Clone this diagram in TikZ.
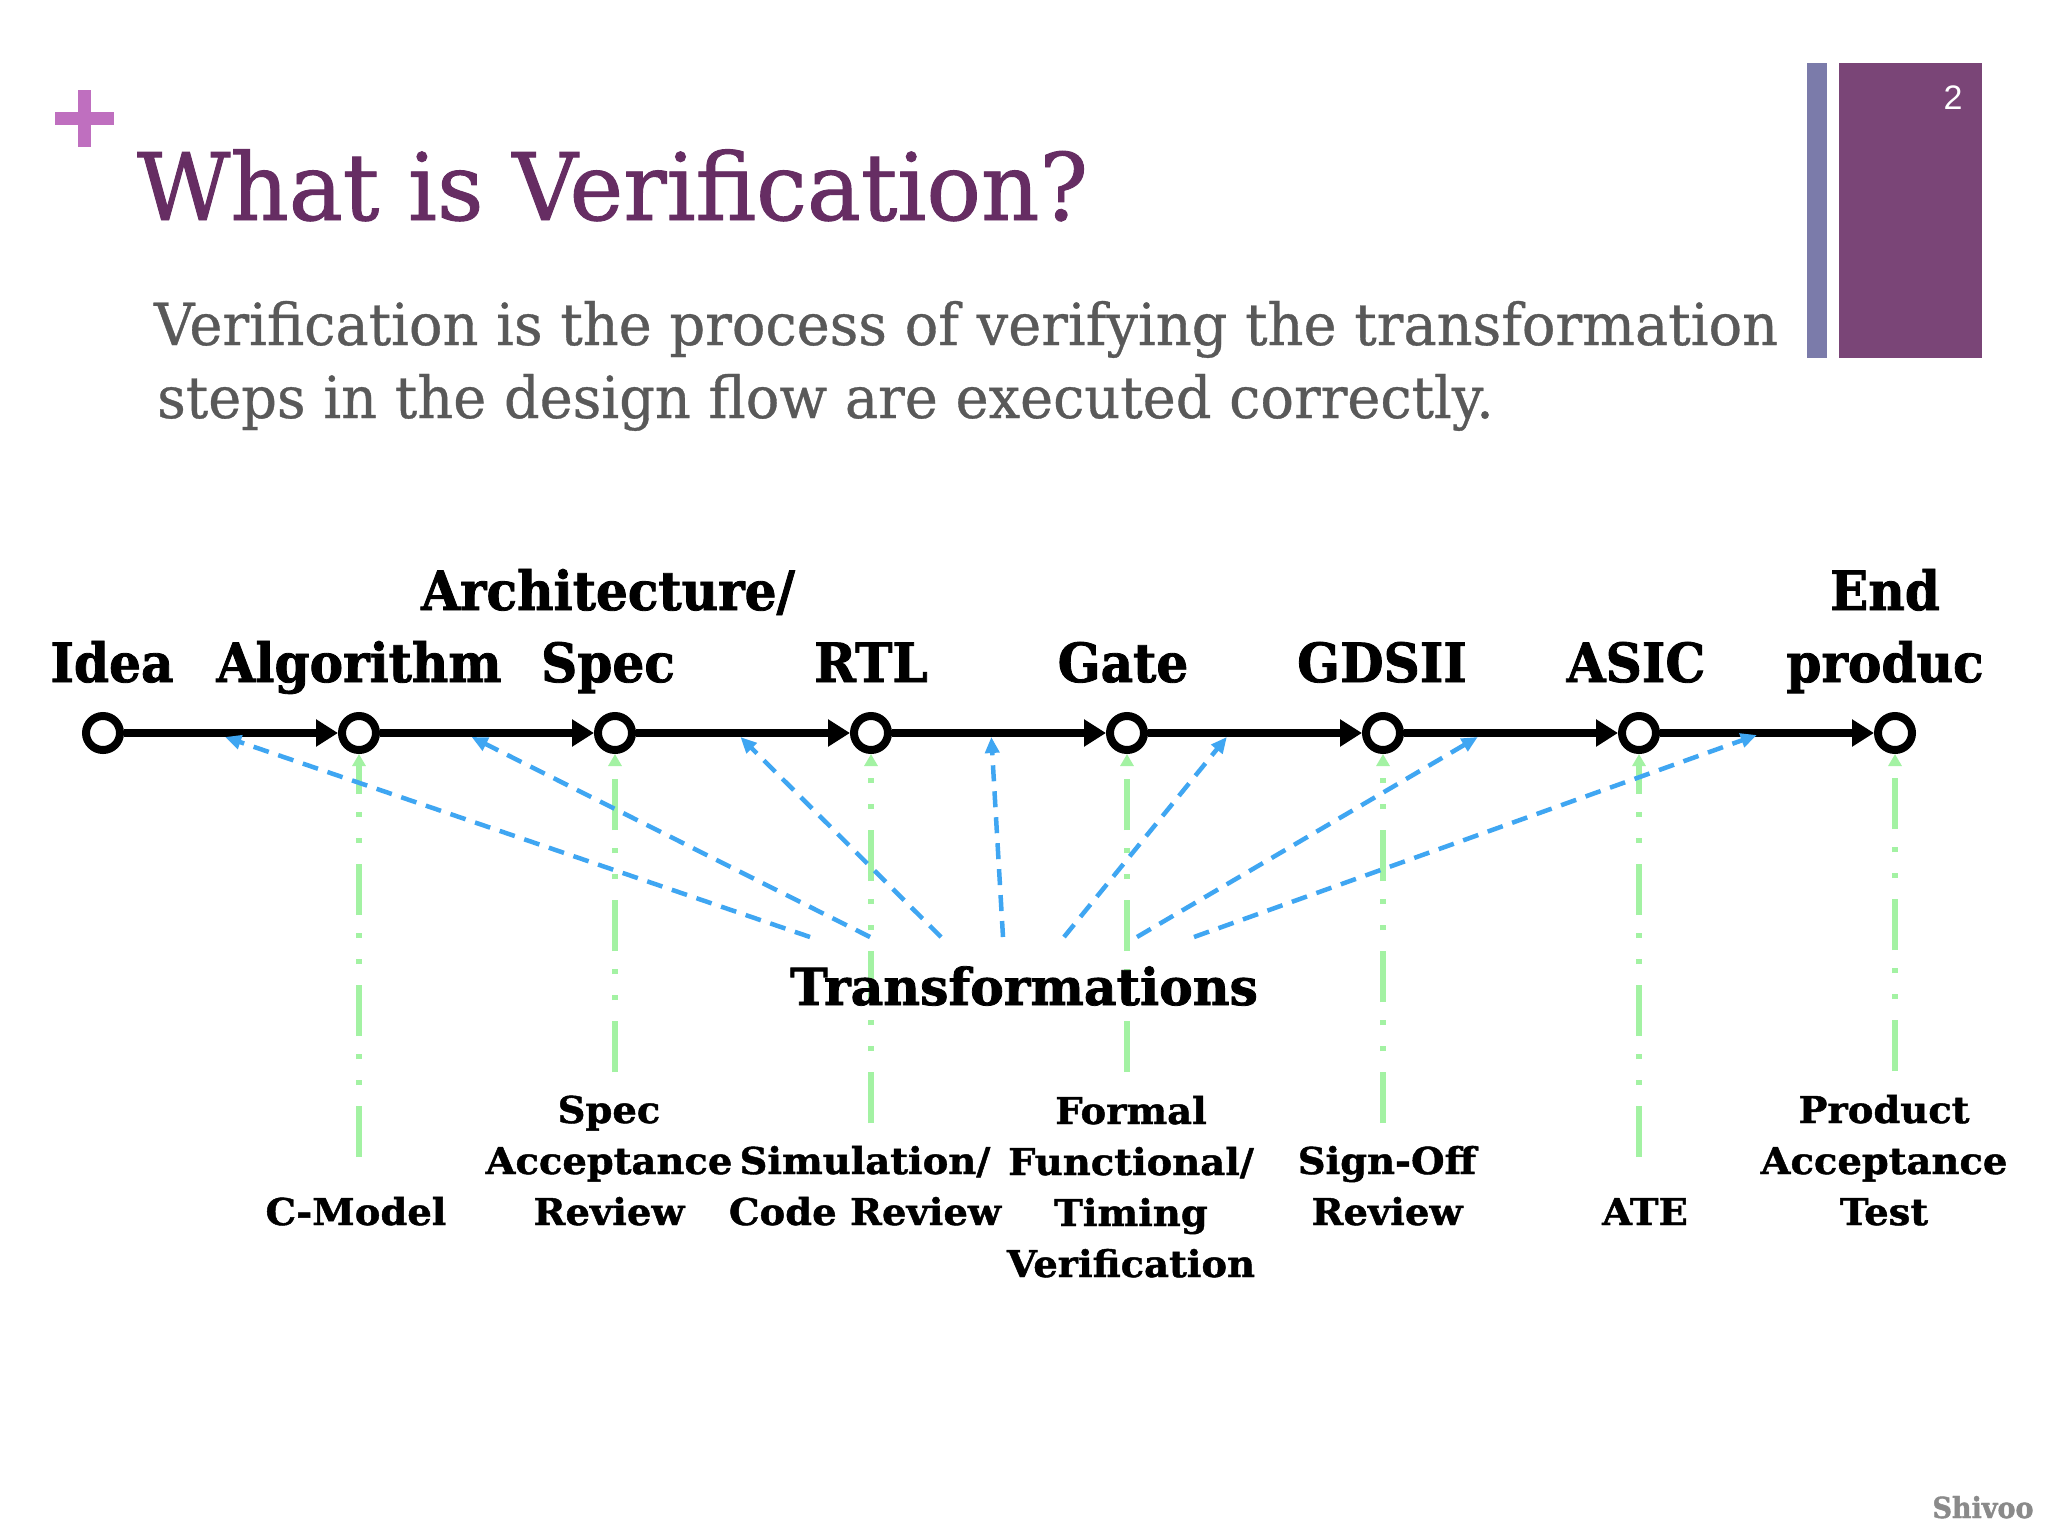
\documentclass[tikz,border=0pt]{standalone}
\usepackage{fontspec}
\setmainfont{DejaVu Serif}
\newfontfamily\titlefont{DejaVu Serif}[FakeStretch=0.975,FakeBold=1]
\newfontfamily\bodyfont{DejaVu Serif}[FakeStretch=0.962,FakeBold=0.6]
\newfontfamily\labfont{DejaVu Serif}[FakeStretch=0.93,FakeBold=1.5]
\newfontfamily\transfont{DejaVu Serif}[FakeStretch=0.99,FakeBold=1.5]
\newfontfamily\smallfont{DejaVu Serif}[FakeStretch=1.04,FakeBold=1.2]
\newfontfamily\numfont{Liberation Sans}
\usetikzlibrary{arrows.meta,calc}
\definecolor{titlepurple}{HTML}{662D63}
\definecolor{bodygray}{HTML}{595959}
\definecolor{plusc}{HTML}{BF6FBF}
\definecolor{barblue}{HTML}{7B7BAA}
\definecolor{barpurple}{HTML}{7A4577}
\definecolor{flowgreen}{HTML}{A3F2A3}
\definecolor{flowblue}{HTML}{3FA6F2}
\definecolor{markgray}{HTML}{8A8A8A}
\begin{document}
\begin{tikzpicture}[x=1pt,y=-1pt,
  stage/.style={circle,draw=black,line width=8pt,minimum size=34pt,inner sep=0pt,fill=white},
  flowline/.style={line width=8pt,-{Triangle[length=22pt,width=26pt]}},
  toplab/.style={anchor=base,inner sep=0pt,align=center,font=\labfont\bfseries\fontsize{54}{72}\selectfont},
  botlab/.style={anchor=base,inner sep=0pt,align=center,font=\smallfont\bfseries\fontsize{37}{51}\selectfont},
  transarrow/.style={flowblue,line width=4.5pt,dash pattern=on 16pt off 10pt,-{Triangle[length=16pt,width=14pt]}},
  checkline/.style={flowgreen,line width=6pt,dash pattern=on 51pt off 21pt on 5pt off 21pt on 5pt off 18pt,-{Triangle[length=12pt,width=13pt]}}
]
\useasboundingbox (0,0) rectangle (2048,1536);
\fill[white] (0,0) rectangle (2048,1536);

% header
\fill[plusc] (55,112) rectangle (114,125);
\fill[plusc] (78,90) rectangle (91,147);
\node[anchor=base west,inner sep=0pt,text=titlepurple,font=\titlefont\fontsize{93}{100}\selectfont] (title) at (137,220) {What is Verification?};
\node[anchor=base west,inner sep=0pt,text=bodygray,font=\bodyfont\fontsize{58}{70}\selectfont] (body1) at (154,345) {Verification is the process of verifying the transformation};
\node[anchor=base west,inner sep=0pt,text=bodygray,font=\bodyfont\fontsize{58}{70}\selectfont] (body2) at (157,418) {steps in the design flow are executed correctly.};
\fill[barblue] (1807,63) rectangle (1827,358);
\fill[barpurple] (1839,63) rectangle (1982,358);
\node[anchor=center,inner sep=0pt,text=white,font=\numfont\fontsize{34}{40}\selectfont] (pagenum) at (1953,98) {2};

% stages
\foreach \i/\x in {1/103,2/359,3/615,4/871,5/1127,6/1383,7/1639,8/1895}
  \node[stage] (c\i) at (\x,733) {};
\foreach \a/\b in {1/2,2/3,3/4,4/5,5/6,6/7,7/8}
  \draw[flowline] (c\a) -- (c\b);

% top labels
\node[toplab] (t1) at (112,682) {Idea};
\node[toplab] (t2) at (359,682) {Algorithm};
\node[toplab] (t3) at (608,682) {Architecture/\\Spec};
\node[toplab] (t4) at (871,682) {RTL};
\node[toplab] (t5) at (1123,682) {Gate};
\node[toplab] (t6) at (1382,682) {GDSII};
\node[toplab] (t7) at (1636,682) {ASIC};
\node[toplab] (t8) at (1885,682) {End\\produc};

% check lines
\coordinate (e2) at (c2 |- 0,1157);
\coordinate (e3) at (c3 |- 0,1072);
\coordinate (e4) at (c4 |- 0,1123);
\coordinate (e5) at (c5 |- 0,1072);
\coordinate (e6) at (c6 |- 0,1123);
\coordinate (e7) at (c7 |- 0,1157);
\coordinate (e8) at (c8 |- 0,1071);
\foreach \k in {2,...,8}
  \draw[checkline] (e\k) -- (c\k.south);

% transformations
\node[anchor=base,inner sep=0pt,font=\transfont\bfseries\fontsize{51}{60}\selectfont] (T) at (1024,1005) {Transformations};
\coordinate (s1) at ($(T.base)+(-214,-68)$);
\coordinate (s2) at ($(T.base)+(-154,-68)$);
\coordinate (s3) at ($(T.base)+(-83,-68)$);
\coordinate (s4) at ($(T.base)+(-21,-68)$);
\coordinate (s5) at ($(T.base)+(40,-68)$);
\coordinate (s6) at ($(T.base)+(113,-68)$);
\coordinate (s7) at ($(T.base)+(170,-68)$);
\coordinate (m1) at ($(c1)!0.477!(c2)+(0,4)$);
\coordinate (m2) at ($(c2)!0.44!(c3)+(0,4)$);
\coordinate (m3) at ($(c3)!0.49!(c4)+(0,4)$);
\coordinate (m4) at ($(c4)!0.47!(c5)+(0,4)$);
\coordinate (m5) at ($(c5)!0.39!(c6)+(0,4)$);
\coordinate (m6) at ($(c6)!0.37!(c7)+(0,4)$);
\coordinate (m7) at ($(c7)!0.46!(c8)+(0,2)$);
\foreach \k in {1,...,7}
  \draw[transarrow] (s\k) -- (m\k);

% bottom labels
\node[botlab] (b2) at (356,1225) {C-Model};
\node[botlab] (b3) at (609,1225) {Spec\\Acceptance\\Review};
\node[botlab] (b4) at (865,1225) {Simulation/\\Code Review};
\node[botlab] (b5) at (1131,1277) {Formal\\Functional/\\Timing\\Verification};
\node[botlab] (b6) at (1387,1225) {Sign-Off\\Review};
\node[botlab] (b7) at (1645,1225) {ATE};
\node[botlab] (b8) at (1884,1225) {Product\\Acceptance\\Test};

\node[anchor=base,inner sep=0pt,text=markgray,font=\labfont\bfseries\fontsize{29}{34}\selectfont] (mark) at (1983,1518) {Shivoo};
\end{tikzpicture}
\end{document}
